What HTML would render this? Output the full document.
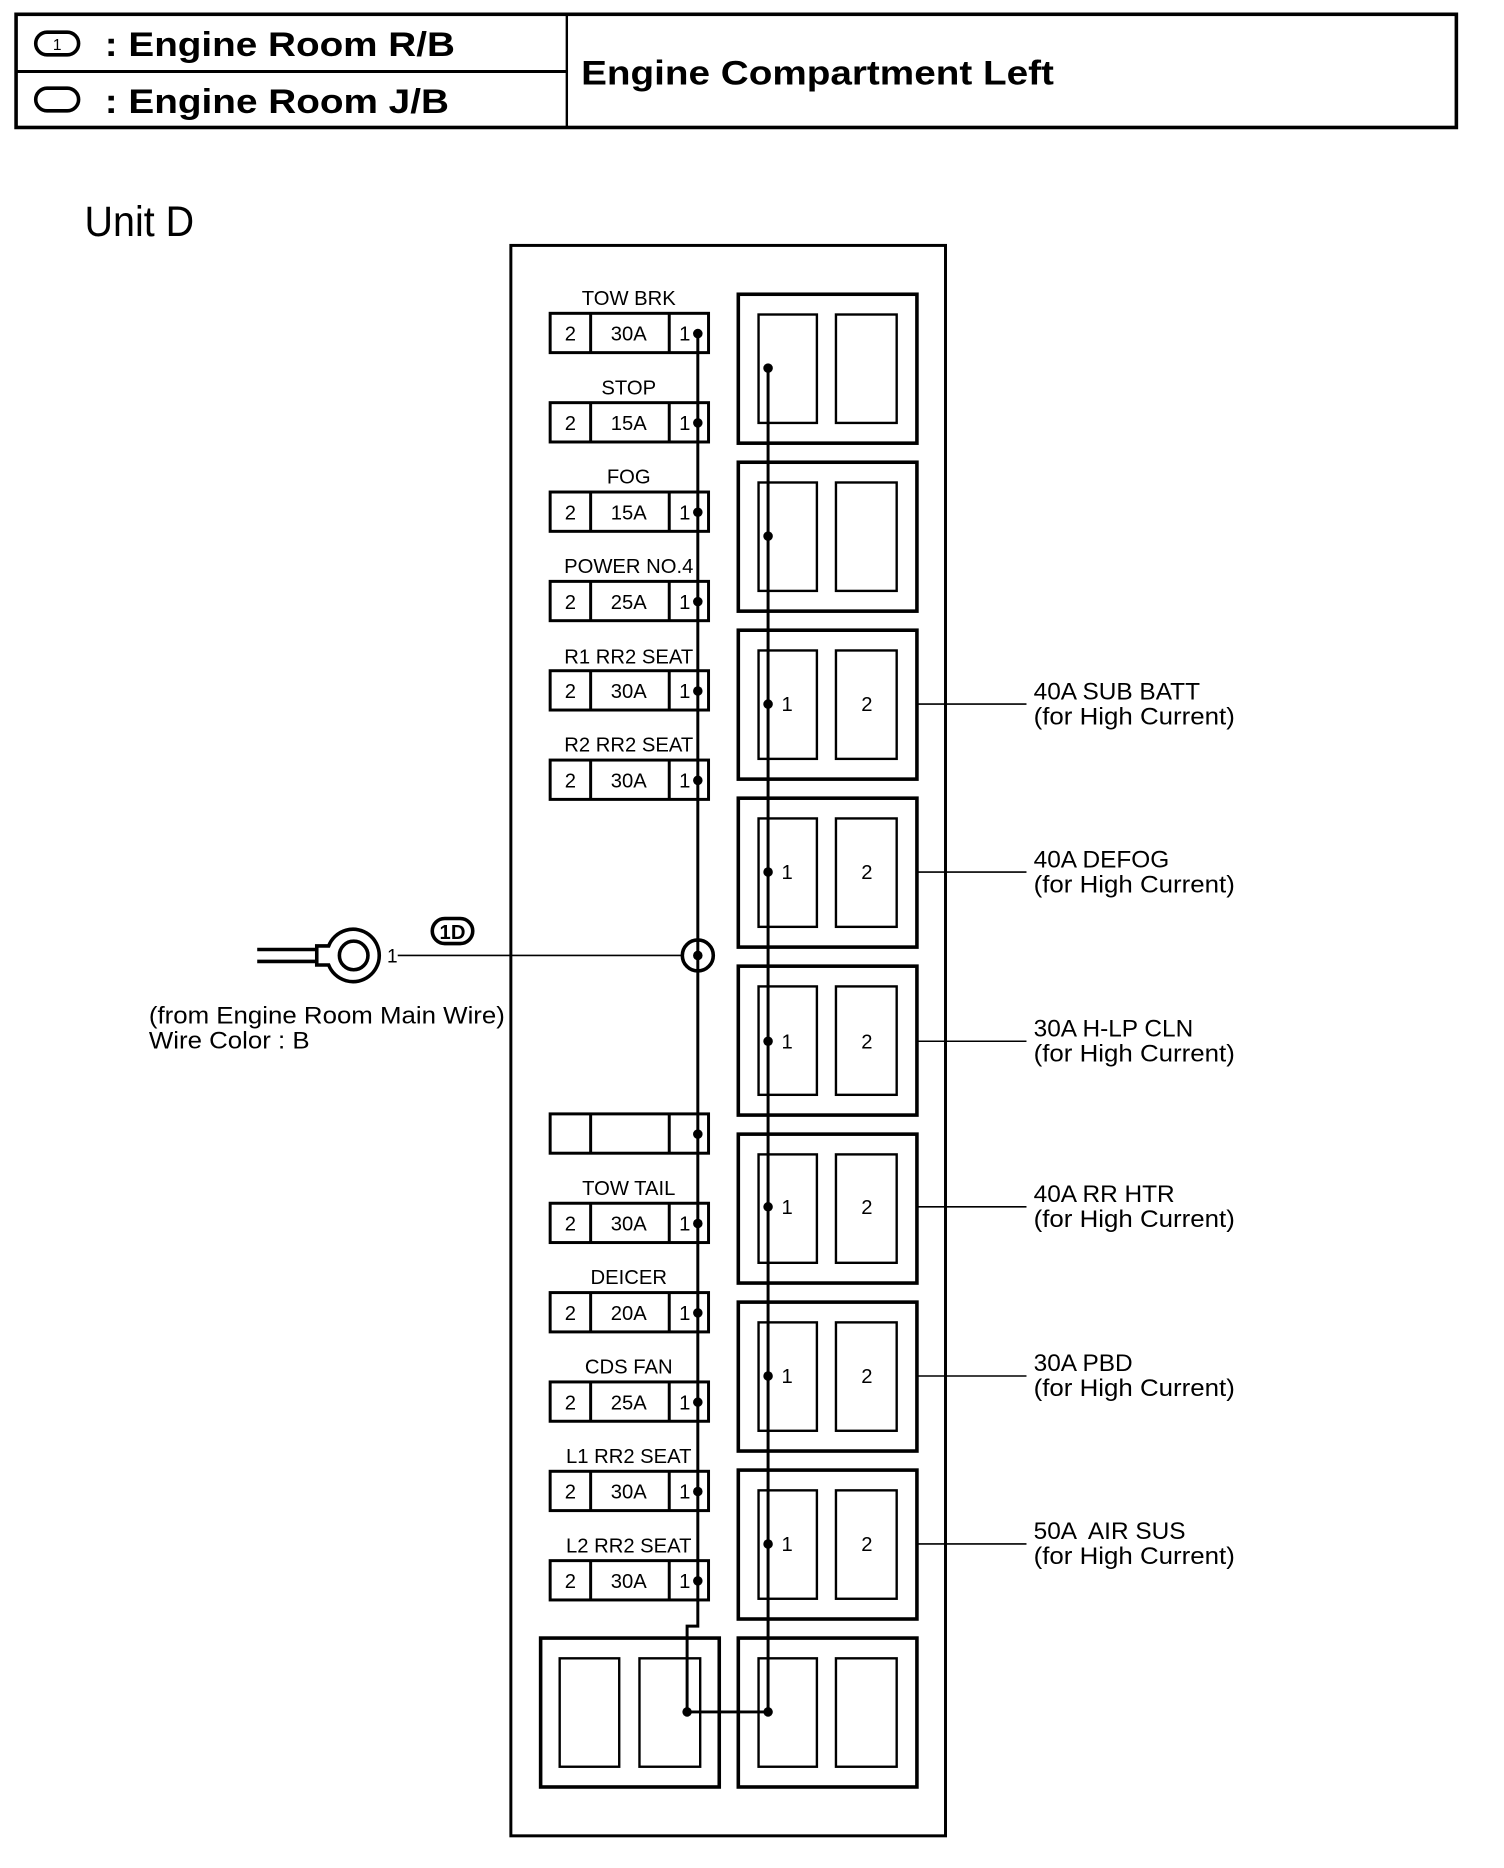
<!DOCTYPE html>
<html><head><meta charset="utf-8"><style>
html,body{margin:0;padding:0;background:#fff;}
svg{display:block;}
text{font-family:"Liberation Sans",Arial,sans-serif;fill:#000;}
</style></head><body>
<svg width="1504" height="1868" viewBox="0 0 1263 1568" preserveAspectRatio="none" xmlns="http://www.w3.org/2000/svg">
<!-- header -->
<rect x="13.5" y="12" width="1209.5" height="95" fill="none" stroke="#000" stroke-width="3"/>
<line x1="476" y1="12" x2="476" y2="107" stroke="#000" stroke-width="2"/>
<line x1="13" y1="60" x2="476" y2="60" stroke="#000" stroke-width="2.5"/>
<rect x="30" y="27" width="36" height="19" rx="9.5" fill="none" stroke="#000" stroke-width="3"/>
<text x="48" y="42" font-size="13" text-anchor="middle">1</text>
<rect x="30" y="74" width="36" height="19" rx="9.5" fill="none" stroke="#000" stroke-width="3"/>
<text x="88" y="47" font-size="29" font-weight="bold" textLength="294" lengthAdjust="spacingAndGlyphs">: Engine Room R/B</text>
<text x="88" y="95" font-size="29" font-weight="bold" textLength="289" lengthAdjust="spacingAndGlyphs">: Engine Room J/B</text>
<text x="488" y="71" font-size="29" font-weight="bold" textLength="397" lengthAdjust="spacingAndGlyphs">Engine Compartment Left</text>
<text x="71" y="198" font-size="36" textLength="92" lengthAdjust="spacingAndGlyphs">Unit D</text>

<!-- outer box -->
<rect x="429" y="206" width="365" height="1335" fill="none" stroke="#000" stroke-width="2.5"/>

<g stroke="#000" fill="none">
<g stroke-width="2.5">
<rect x="462" y="263" width="133" height="33"/><line x1="496" y1="263" x2="496" y2="296"/><line x1="562" y1="263" x2="562" y2="296"/>
<rect x="462" y="338" width="133" height="33"/><line x1="496" y1="338" x2="496" y2="371"/><line x1="562" y1="338" x2="562" y2="371"/>
<rect x="462" y="413" width="133" height="33"/><line x1="496" y1="413" x2="496" y2="446"/><line x1="562" y1="413" x2="562" y2="446"/>
<rect x="462" y="488" width="133" height="33"/><line x1="496" y1="488" x2="496" y2="521"/><line x1="562" y1="488" x2="562" y2="521"/>
<rect x="462" y="563" width="133" height="33"/><line x1="496" y1="563" x2="496" y2="596"/><line x1="562" y1="563" x2="562" y2="596"/>
<rect x="462" y="638" width="133" height="33"/><line x1="496" y1="638" x2="496" y2="671"/><line x1="562" y1="638" x2="562" y2="671"/>
<rect x="462" y="935" width="133" height="33"/><line x1="496" y1="935" x2="496" y2="968"/><line x1="562" y1="935" x2="562" y2="968"/>
<rect x="462" y="1010" width="133" height="33"/><line x1="496" y1="1010" x2="496" y2="1043"/><line x1="562" y1="1010" x2="562" y2="1043"/>
<rect x="462" y="1085" width="133" height="33"/><line x1="496" y1="1085" x2="496" y2="1118"/><line x1="562" y1="1085" x2="562" y2="1118"/>
<rect x="462" y="1160" width="133" height="33"/><line x1="496" y1="1160" x2="496" y2="1193"/><line x1="562" y1="1160" x2="562" y2="1193"/>
<rect x="462" y="1235" width="133" height="33"/><line x1="496" y1="1235" x2="496" y2="1268"/><line x1="562" y1="1235" x2="562" y2="1268"/>
<rect x="462" y="1310" width="133" height="33"/><line x1="496" y1="1310" x2="496" y2="1343"/><line x1="562" y1="1310" x2="562" y2="1343"/>
</g>
<g stroke-width="3">
<rect x="620" y="247" width="150" height="125"/><rect x="620" y="388" width="150" height="125"/>
<rect x="620" y="529" width="150" height="125"/><rect x="620" y="670" width="150" height="125"/>
<rect x="620" y="811" width="150" height="125"/><rect x="620" y="952" width="150" height="125"/>
<rect x="620" y="1093" width="150" height="125"/><rect x="620" y="1234" width="150" height="125"/>
<rect x="620" y="1375" width="150" height="125"/><rect x="454" y="1375" width="150" height="125"/>
</g>
<g stroke-width="2">
<rect x="637" y="264" width="49" height="91"/><rect x="702" y="264" width="51" height="91"/>
<rect x="637" y="405" width="49" height="91"/><rect x="702" y="405" width="51" height="91"/>
<rect x="637" y="546" width="49" height="91"/><rect x="702" y="546" width="51" height="91"/>
<rect x="637" y="687" width="49" height="91"/><rect x="702" y="687" width="51" height="91"/>
<rect x="637" y="828" width="49" height="91"/><rect x="702" y="828" width="51" height="91"/>
<rect x="637" y="969" width="49" height="91"/><rect x="702" y="969" width="51" height="91"/>
<rect x="637" y="1110" width="49" height="91"/><rect x="702" y="1110" width="51" height="91"/>
<rect x="637" y="1251" width="49" height="91"/><rect x="702" y="1251" width="51" height="91"/>
<rect x="637" y="1392" width="49" height="91"/><rect x="702" y="1392" width="51" height="91"/>
<rect x="470" y="1392" width="50" height="91"/><rect x="537" y="1392" width="51" height="91"/>
</g>
<g stroke-width="2.5">
<polyline points="586,280 586,1365 577,1365 577,1437 645,1437"/>
<line x1="645" y1="309" x2="645" y2="1437"/>
</g>
<g stroke-width="1.3">
<line x1="770" y1="591" x2="862" y2="591"/><line x1="770" y1="732" x2="862" y2="732"/>
<line x1="770" y1="874" x2="862" y2="874"/><line x1="770" y1="1013" x2="862" y2="1013"/>
<line x1="770" y1="1155" x2="862" y2="1155"/><line x1="770" y1="1296" x2="862" y2="1296"/>
<line x1="334" y1="802" x2="572" y2="802"/>
</g>
<g stroke-width="3">
<line x1="216" y1="797" x2="268" y2="797"/><line x1="216" y1="807" x2="268" y2="807"/>
<path d="M266,794 L276,794 A22,22 0 1 1 276,810 L266,810 Z" fill="#fff"/>
<circle cx="297" cy="802" r="12"/>
<circle cx="586" cy="802" r="13" fill="#fff"/>
<rect x="363" y="771" width="34" height="21" rx="10.5"/>
</g>
</g>
<line x1="586" y1="789" x2="586" y2="815" stroke="#000" stroke-width="2.5"/>
<g fill="#000">
<circle cx="586" cy="280" r="4"/><circle cx="586" cy="355" r="4"/><circle cx="586" cy="430" r="4"/>
<circle cx="586" cy="505" r="4"/><circle cx="586" cy="580" r="4"/><circle cx="586" cy="655" r="4"/>
<circle cx="586" cy="952" r="4"/><circle cx="586" cy="1027" r="4"/><circle cx="586" cy="1102" r="4"/>
<circle cx="586" cy="1177" r="4"/><circle cx="586" cy="1252" r="4"/><circle cx="586" cy="1327" r="4"/>
<circle cx="586" cy="802" r="4"/>
<circle cx="645" cy="309" r="4"/><circle cx="645" cy="450" r="4"/>
<circle cx="645" cy="591" r="4"/><circle cx="645" cy="732" r="4"/><circle cx="645" cy="874" r="4"/>
<circle cx="645" cy="1013" r="4"/><circle cx="645" cy="1155" r="4"/><circle cx="645" cy="1296" r="4"/>
<circle cx="577" cy="1437" r="4"/><circle cx="645" cy="1437" r="4"/>
</g>
<g font-size="17" text-anchor="middle">
<text x="528" y="256">TOW BRK</text><text x="528" y="331">STOP</text><text x="528" y="406">FOG</text>
<text x="528" y="481">POWER NO.4</text><text x="528" y="557">R1 RR2 SEAT</text><text x="528" y="631">R2 RR2 SEAT</text>
<text x="528" y="1003">TOW TAIL</text><text x="528" y="1078">DEICER</text><text x="528" y="1153">CDS FAN</text>
<text x="528" y="1228">L1 RR2 SEAT</text><text x="528" y="1303">L2 RR2 SEAT</text>
<text x="479" y="286">2</text><text x="528" y="286">30A</text><text x="575" y="286">1</text>
<text x="479" y="361">2</text><text x="528" y="361">15A</text><text x="575" y="361">1</text>
<text x="479" y="436">2</text><text x="528" y="436">15A</text><text x="575" y="436">1</text>
<text x="479" y="511">2</text><text x="528" y="511">25A</text><text x="575" y="511">1</text>
<text x="479" y="586">2</text><text x="528" y="586">30A</text><text x="575" y="586">1</text>
<text x="479" y="661">2</text><text x="528" y="661">30A</text><text x="575" y="661">1</text>
<text x="479" y="1033">2</text><text x="528" y="1033">30A</text><text x="575" y="1033">1</text>
<text x="479" y="1108">2</text><text x="528" y="1108">20A</text><text x="575" y="1108">1</text>
<text x="479" y="1183">2</text><text x="528" y="1183">25A</text><text x="575" y="1183">1</text>
<text x="479" y="1258">2</text><text x="528" y="1258">30A</text><text x="575" y="1258">1</text>
<text x="479" y="1333">2</text><text x="528" y="1333">30A</text><text x="575" y="1333">1</text>
<text x="661" y="597">1</text><text x="728" y="597">2</text>
<text x="661" y="738">1</text><text x="728" y="738">2</text>
<text x="661" y="880">1</text><text x="728" y="880">2</text>
<text x="661" y="1019">1</text><text x="728" y="1019">2</text>
<text x="661" y="1161">1</text><text x="728" y="1161">2</text>
<text x="661" y="1302">1</text><text x="728" y="1302">2</text>
<text x="380" y="788" font-weight="bold">1D</text>
</g>
<text x="325" y="808" font-size="16">1</text>
<g font-size="20.5">
<text x="868" y="587">40A SUB BATT</text><text x="868" y="608" textLength="169" lengthAdjust="spacingAndGlyphs">(for High Current)</text>
<text x="868" y="728">40A DEFOG</text><text x="868" y="749" textLength="169" lengthAdjust="spacingAndGlyphs">(for High Current)</text>
<text x="868" y="870">30A H-LP CLN</text><text x="868" y="891" textLength="169" lengthAdjust="spacingAndGlyphs">(for High Current)</text>
<text x="868" y="1009">40A RR HTR</text><text x="868" y="1030" textLength="169" lengthAdjust="spacingAndGlyphs">(for High Current)</text>
<text x="868" y="1151">30A PBD</text><text x="868" y="1172" textLength="169" lengthAdjust="spacingAndGlyphs">(for High Current)</text>
<text x="868" y="1292" xml:space="preserve">50A  AIR SUS</text><text x="868" y="1313" textLength="169" lengthAdjust="spacingAndGlyphs">(for High Current)</text>
<text x="125" y="859" textLength="299" lengthAdjust="spacingAndGlyphs">(from Engine Room Main Wire)</text>
<text x="125" y="880" textLength="135" lengthAdjust="spacingAndGlyphs">Wire Color : B</text>
</g>
</svg>
</body></html>
